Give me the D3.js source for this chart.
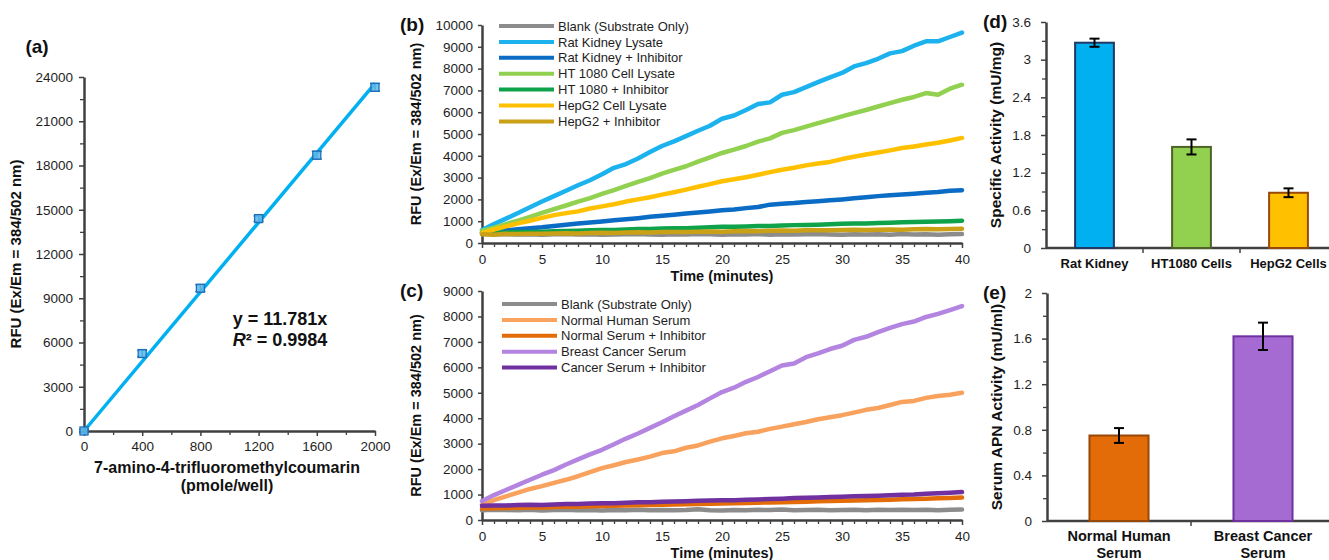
<!DOCTYPE html>
<html>
<head>
<meta charset="utf-8">
<script src="https://cdn.jsdelivr.net/npm/d3@7"></script>
<style>
  body { margin: 0; background: #fff; }
  svg text { font-family: Arial, "Liberation Sans", sans-serif; }
</style>
</head>
<body>
<svg id="fig" width="1329" height="560"></svg>
<script>
// (a) standard curve
var stdAmount = [0, 400, 800, 1200, 1600, 2000];
var stdRfu = [0, 5250, 9680, 14400, 18700, 23300];
var stdErr = [120, 220, 230, 180, 260, 260];
var fitSlope = 11.781;

// (b) / (c) kinetic reads, one value per minute
var minutes = d3.range(0, 41);

var lysateNames = ['Blank (Substrate Only)', 'Rat Kidney Lysate', 'Rat Kidney + Inhibitor', 'HT 1080 Cell Lysate', 'HT 1080 + Inhibitor', 'HepG2 Cell Lysate', 'HepG2 + Inhibitor'];
var lysateColors = ['#8c8c8c', '#1cb2ee', '#0a6cc4', '#92d050', '#0ea34a', '#ffc000', '#c9a016'];
var blankB = [420,400,410,390,400,380,400,410,390,400,380,390,400,410,390,380,400,390,410,400,380,400,390,410,380,400,390,400,410,390,380,400,390,400,380,410,390,400,380,400,410];
var ratKidney = [600,870,1120,1380,1640,1900,2150,2400,2650,2880,3150,3450,3620,3880,4170,4450,4660,4900,5150,5380,5700,5850,6100,6380,6450,6800,6920,7150,7380,7600,7800,8100,8250,8450,8700,8800,9050,9250,9250,9450,9650];
var ratKidneyInh = [480,530,580,630,680,720,780,840,890,940,990,1040,1090,1140,1200,1250,1300,1350,1400,1450,1500,1540,1600,1650,1760,1800,1830,1880,1920,1960,2000,2050,2100,2150,2190,2220,2260,2300,2340,2400,2420];
var ht1080 = [550,700,870,1030,1200,1380,1550,1720,1900,2060,2250,2430,2620,2800,2980,3180,3350,3520,3730,3930,4130,4280,4450,4650,4800,5050,5180,5340,5500,5650,5810,5960,6100,6260,6420,6570,6700,6880,6800,7080,7260];
var ht1080Inh = [450,470,480,500,510,520,540,550,560,580,600,600,620,640,640,660,680,680,700,720,740,740,760,780,780,800,820,830,840,860,880,890,900,920,930,950,960,980,990,1000,1020];
var hepg2 = [450,620,760,900,1020,1150,1280,1370,1450,1580,1680,1780,1900,2000,2100,2220,2330,2450,2580,2700,2830,2920,3020,3130,3250,3360,3450,3560,3650,3720,3850,3960,4060,4150,4250,4360,4430,4520,4600,4700,4820];
var hepg2Inh = [400,380,420,410,430,420,440,450,440,460,470,460,480,490,480,500,510,500,520,530,520,540,550,540,560,570,560,580,590,580,600,610,600,610,620,610,630,640,630,640,650];
var lysateSeries = [blankB, ratKidney, ratKidneyInh, ht1080, ht1080Inh, hepg2, hepg2Inh];

var serumNames = ['Blank (Substrate Only)', 'Normal Human Serum', 'Normal Serum + Inhibitor', 'Breast Cancer Serum', 'Cancer Serum + Inhibitor'];
var serumColors = ['#8c8c8c', '#f9a25e', '#e36c09', '#b385e0', '#7030a0'];
var blankC = [380,400,390,380,400,370,390,400,380,390,370,390,380,400,380,390,380,390,420,380,370,390,380,400,390,410,380,390,400,380,390,400,380,400,390,400,390,400,380,400,410];
var normalSerum = [600,780,930,1080,1220,1330,1460,1580,1720,1880,2040,2150,2280,2380,2490,2630,2700,2840,2930,3080,3210,3300,3410,3470,3580,3670,3760,3850,3960,4040,4120,4220,4330,4400,4520,4640,4680,4800,4870,4920,5000];
var normalInh = [450,460,470,480,490,490,510,520,520,540,550,560,570,580,590,600,610,620,630,640,650,660,670,680,690,700,710,720,740,750,760,770,780,790,800,820,830,840,850,860,880];
var cancerSerum = [750,980,1180,1380,1580,1780,1960,2180,2380,2580,2760,2980,3200,3400,3620,3840,4080,4300,4520,4780,5030,5200,5430,5620,5850,6070,6150,6400,6550,6720,6850,7080,7200,7380,7550,7700,7800,7980,8100,8250,8410];
var cancerInh = [560,570,570,590,600,590,610,630,630,650,660,660,680,700,700,720,730,740,760,770,780,780,800,810,830,840,860,870,880,900,910,930,940,950,970,990,1000,1030,1050,1070,1100];
var serumSeries = [blankC, normalSerum, normalInh, cancerSerum, cancerInh];

// (d) specific activity
var cellCats = ['Rat Kidney', 'HT1080 Cells', 'HepG2 Cells'];
var cellActivity = [3.27, 1.61, 0.88];
var cellErr = [0.065, 0.12, 0.07];
var cellFill = ['#00b0f0', '#92d050', '#ffc000'];
var cellStroke = ['#1f3864', '#4f6228', '#984807'];

// (e) serum activity
var serumCats = [['Normal Human', 'Serum'], ['Breast Cancer', 'Serum']];
var serumActivity = [0.75, 1.62];
var serumErr = [0.065, 0.12];
var serumFill = ['#e36c09', '#a66bd3'];
var serumStroke = ['#984807', '#7030a0'];

var axisColor = '#404040';
var tickColor = '#1e1e1e';
var plain = d => String(d);
var svg = d3.select('#fig');

var styleAxis = (g, w, fs) => {
  g.attr('font-size', fs || 13.5).attr('font-family', 'Arial, "Liberation Sans", sans-serif');
  g.select('.domain').attr('stroke', axisColor).attr('stroke-width', w);
  g.selectAll('.tick line').attr('stroke', axisColor).attr('stroke-width', 1.5);
  g.selectAll('.tick text').attr('fill', tickColor);
};

var minorTicks = (g, axis) => {
  g.call(axis.tickFormat('')).select('.domain').remove();
  g.selectAll('.tick line').attr('stroke', axisColor).attr('stroke-width', 1.3);
};

var boldText = (x, y, txt, size, anchor, rot) => {
  var t = svg.append('text').attr('x', x).attr('y', y).text(txt)
    .attr('font-size', size).attr('font-weight', 'bold').attr('fill', '#111')
    .attr('text-anchor', anchor || 'middle');
  if (rot) t.attr('transform', 'rotate(-90,' + x + ',' + y + ')');
  return t;
};

// ---------- (a) ----------
var xa = d3.scaleLinear().domain([0, 2000]).range([84, 375]);
var ya = d3.scaleLinear().domain([0, 24000]).range([431, 77]);

svg.append('g').attr('transform', 'translate(0,431)')
  .call(g => minorTicks(g, d3.axisBottom(xa).tickValues([200, 600, 1000, 1400, 1800]).tickSize(4)));
svg.append('g').attr('transform', 'translate(84,0)')
  .call(g => minorTicks(g, d3.axisLeft(ya).tickValues([1500, 4500, 7500, 10500, 13500, 16500, 19500, 22500]).tickSize(4)));
svg.append('g').attr('transform', 'translate(0,431)')
  .call(d3.axisBottom(xa).tickValues([0, 400, 800, 1200, 1600, 2000]).tickFormat(plain).tickSize(5).tickSizeOuter(0).tickPadding(5))
  .call(g => styleAxis(g, 2.5));
svg.append('g').attr('transform', 'translate(84,0)')
  .call(d3.axisLeft(ya).tickValues(d3.range(0, 24001, 3000)).tickFormat(plain).tickSize(5).tickSizeOuter(0).tickPadding(6))
  .call(g => styleAxis(g, 2.5));

svg.append('line')
  .attr('x1', xa(0)).attr('y1', ya(0)).attr('x2', xa(2000)).attr('y2', ya(2000 * fitSlope))
  .attr('stroke', '#00b0f0').attr('stroke-width', 3.5);

var stdPts = svg.append('g').selectAll('g').data(stdAmount).enter().append('g');
stdPts.append('line')
  .attr('x1', d => xa(d)).attr('x2', d => xa(d))
  .attr('y1', (d, i) => ya(stdRfu[i] - stdErr[i])).attr('y2', (d, i) => ya(stdRfu[i] + stdErr[i]))
  .attr('stroke', '#1f6fb8').attr('stroke-width', 1.5);
stdPts.selectAll('.cap').data((d, i) => [[d, stdRfu[i] - stdErr[i]], [d, stdRfu[i] + stdErr[i]]]).enter().append('line')
  .attr('x1', d => xa(d[0]) - 5).attr('x2', d => xa(d[0]) + 5)
  .attr('y1', d => ya(d[1])).attr('y2', d => ya(d[1]))
  .attr('stroke', '#1f6fb8').attr('stroke-width', 1.5);
stdPts.append('rect')
  .attr('x', d => xa(d) - 4).attr('y', (d, i) => ya(stdRfu[i]) - 4)
  .attr('width', 8).attr('height', 8)
  .attr('fill', '#5cb8ea').attr('stroke', '#1f6fb8').attr('stroke-width', 1.3).attr('fill-opacity', 0.85);

boldText(280, 325, 'y = 11.781x', 18);
var r2 = boldText(280, 346, '', 18);
r2.append('tspan').attr('font-style', 'italic').text('R');
r2.append('tspan').text('² = 0.9984');

boldText(37, 53, '(a)', 19);
boldText(21, 254, 'RFU (Ex/Em = 384/502 nm)', 15, 'middle', true);
boldText(227, 473, '7-amino-4-trifluoromethylcoumarin', 16);
boldText(227, 491, '(pmole/well)', 16);

// ---------- (b) & (c) ----------
var drawKinetics = (top, bottom, yMax, names, colors, series, legendX, legendY, label) => {
  var x = d3.scaleLinear().domain([0, 40]).range([482, 962]);
  var y = d3.scaleLinear().domain([0, yMax]).range([bottom, top]);

  svg.append('g').attr('transform', 'translate(0,' + bottom + ')')
    .call(g => minorTicks(g, d3.axisBottom(x).tickValues(minutes.filter(m => m % 5)).tickSize(4)));
  svg.append('g').attr('transform', 'translate(0,' + bottom + ')')
    .call(d3.axisBottom(x).tickValues(d3.range(0, 41, 5)).tickFormat(plain).tickSize(5).tickSizeOuter(0).tickPadding(6))
    .call(g => styleAxis(g, 2.5));
  svg.append('g').attr('transform', 'translate(482,0)')
    .call(d3.axisLeft(y).tickValues(d3.range(0, yMax + 1, 1000)).tickFormat(plain).tickSize(4).tickSizeOuter(0).tickPadding(5))
    .call(g => styleAxis(g, 2.5));

  var line = d3.line().x((d, i) => x(minutes[i])).y(d => y(d));
  svg.append('g').selectAll('path').data(series).enter().append('path')
    .attr('d', line).attr('fill', 'none')
    .attr('stroke', (d, i) => colors[i]).attr('stroke-width', 4.5)
    .attr('stroke-linejoin', 'round').attr('stroke-linecap', 'round');

  var leg = svg.append('g').selectAll('g').data(names).enter().append('g')
    .attr('transform', (d, i) => 'translate(' + legendX + ',' + (legendY + i * 15.9) + ')');
  leg.append('line').attr('x1', 0).attr('x2', 55).attr('y1', 0).attr('y2', 0)
    .attr('stroke', (d, i) => colors[i]).attr('stroke-width', 4);
  leg.append('text').attr('x', 59).attr('y', 4.6).text(d => d)
    .attr('font-size', 13).attr('fill', tickColor);

  boldText(400, top + 6, label, 19, 'start');
  boldText(421, (top + bottom) / 2, 'RFU (Ex/Em = 384/502 nm)', 14.5, 'middle', true);
  boldText(722, bottom + 38, 'Time (minutes)', 14.5);
};

drawKinetics(25, 243, 10000, lysateNames, lysateColors, lysateSeries, 499, 26, '(b)');
drawKinetics(291, 520, 9000, serumNames, serumColors, serumSeries, 502, 304, '(c)');

// ---------- (d) & (e) ----------
var drawBars = (left, right, top, bottom, yMax, major, minor, cats, vals, errs, fills, strokes, pad, yTitle, label, labelSize) => {
  var x = d3.scaleBand().domain(d3.range(cats.length)).range([left, right]).paddingInner(pad).paddingOuter(pad / 2);
  var y = d3.scaleLinear().domain([0, yMax]).range([bottom, top]);

  svg.append('g').attr('transform', 'translate(' + left + ',0)')
    .call(g => minorTicks(g, d3.axisLeft(y).tickValues(minor).tickSize(4)));
  svg.append('g').attr('transform', 'translate(' + left + ',0)')
    .call(d3.axisLeft(y).tickValues(major).tickFormat(plain).tickSize(5).tickSizeOuter(0).tickPadding(10))
    .call(g => styleAxis(g, 2.5));

  svg.append('line').attr('x1', left).attr('x2', right).attr('y1', bottom).attr('y2', bottom)
    .attr('stroke', axisColor).attr('stroke-width', 2.5);
  svg.append('g').selectAll('line').data(d3.range(1, cats.length)).enter().append('line')
    .attr('x1', d => x(d) - x.step() * pad / 2).attr('x2', d => x(d) - x.step() * pad / 2)
    .attr('y1', bottom).attr('y2', bottom + 5)
    .attr('stroke', axisColor).attr('stroke-width', 1.5);

  svg.append('g').selectAll('rect').data(vals).enter().append('rect')
    .attr('x', (d, i) => x(i)).attr('width', x.bandwidth())
    .attr('y', d => y(d)).attr('height', d => bottom - y(d))
    .attr('fill', (d, i) => fills[i]).attr('stroke', (d, i) => strokes[i]).attr('stroke-width', 2);

  var eb = svg.append('g').selectAll('g').data(vals).enter().append('g')
    .attr('transform', (d, i) => 'translate(' + (x(i) + x.bandwidth() / 2) + ',0)');
  eb.append('line').attr('x1', 0).attr('x2', 0)
    .attr('y1', (d, i) => y(d - errs[i])).attr('y2', (d, i) => y(d + errs[i]))
    .attr('stroke', '#000').attr('stroke-width', 2);
  eb.append('line').attr('x1', -5).attr('x2', 5)
    .attr('y1', (d, i) => y(d - errs[i])).attr('y2', (d, i) => y(d - errs[i]))
    .attr('stroke', '#000').attr('stroke-width', 2);
  eb.append('line').attr('x1', -5).attr('x2', 5)
    .attr('y1', (d, i) => y(d + errs[i])).attr('y2', (d, i) => y(d + errs[i]))
    .attr('stroke', '#000').attr('stroke-width', 2);

  cats.forEach((c, i) => {
    var lines = [].concat(c);
    lines.forEach((s, j) => boldText(x(i) + x.bandwidth() / 2, bottom + 20 + j * 17, s, labelSize));
  });

  boldText(left - 45, (top + bottom) / 2, yTitle, 15.5, 'middle', true);
  boldText(983, top + 6, label, 19, 'start');
};

drawBars(1046, 1337, 22, 248, 3.6, [0, 0.6, 1.2, 1.8, 2.4, 3, 3.6], [0.3, 0.9, 1.5, 2.1, 2.7, 3.3],
  cellCats, cellActivity, cellErr, cellFill, cellStroke, 0.6, 'Specific Activity (mU/mg)', '(d)', 13);
drawBars(1047, 1335, 293, 521, 2, [0, 0.4, 0.8, 1.2, 1.6, 2], [0.2, 0.6, 1, 1.4, 1.8],
  serumCats, serumActivity, serumErr, serumFill, serumStroke, 0.59, 'Serum APN Activity (mU/ml)', '(e)', 14.5);
</script>
</body>
</html>
